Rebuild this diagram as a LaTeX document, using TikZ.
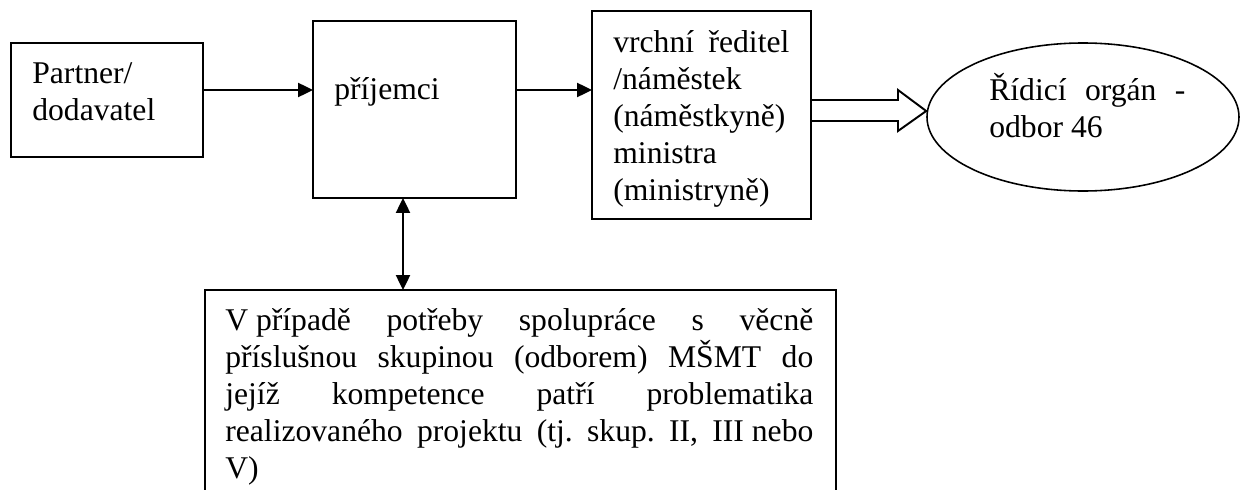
\documentclass[tikz,border=0pt]{standalone}
\usepackage{fontspec}
\setmainfont{Liberation Serif}
\usetikzlibrary{arrows.meta, shapes.geometric}

\newlength\pu
\setlength\pu{0.02cm}
\newcommand\ft{\rule{0pt}{20pt}}
\frenchspacing

\begin{document}
\begin{tikzpicture}[x=1\pu, y=-1\pu,
        >={Triangle[length=0.3cm, width=0.28cm]},
        box/.style={draw, line width=1.15pt, rectangle, anchor=north west, inner sep=0pt, outer sep=0pt},
        txt/.style={anchor=north west, inner sep=0pt, align=left, font=\fontsize{18}{21.06}\selectfont},
        sip/.style={line width=1.4pt}]
        \clip (0,0) rectangle (1242,490);

        \coordinate (h) at (0,90);
        \coordinate (v) at (403,0);

        \node[box, minimum width=192\pu, minimum height=114\pu] (pa) at (11,43) {};
        \node[box, minimum width=203\pu, minimum height=177\pu] (pr) at (313,21) {};
        \node[box, minimum width=219\pu, minimum height=208\pu] (vr) at (592,11) {};
        \node[draw, ellipse, line width=0.9pt, inner sep=0pt, minimum width=312\pu, minimum height=148\pu] (el) at (1083,117) {};
        \node[box, minimum width=631\pu, minimum height=240\pu] (sk) at (205,290) {};

        \draw[sip, ->] (pa.east |- h) -- (pr.west |- h);
        \draw[sip, ->] (pr.east |- h) -- (vr.west |- h);
        \draw[sip, <->] (pr.south -| v) -- (sk.north -| v);
        \draw[line width=1.1pt] (vr.east |- 0,100) -- (898,100) -- (898,90) -- (el.west |- 0,111)
                -- (898,131) -- (898,121) -- (vr.east |- 0,121);

        \node[txt] (tpa) at (32,48) {\ft Partner/\\dodavatel};
        \node[txt] (tpr) at (334,64) {\ft příjemci};
        \node[txt] (tvr) at (613,17) {\ft\makebox[176\pu][s]{vrchní ředitel}\\/náměstek\\(náměstkyně)\\ministra\\(ministryně)};
        \node[txt] (tel) at (989,65) {\ft\makebox[196\pu][s]{Řídicí orgán -}\\odbor 46};
        \node[txt] (tsk) at (225,295) {\ft\makebox[588\pu][s]{\mbox{V případě} potřeby spolupráce s věcně}\\
                \makebox[588\pu][s]{příslušnou skupinou (odborem) MŠMT do}\\
                \makebox[588\pu][s]{jejíž kompetence patří problematika}\\
                \makebox[588\pu][s]{realizovaného projektu (tj. skup. II, \mbox{III nebo}}\\
                V)};
\end{tikzpicture}
\end{document}
